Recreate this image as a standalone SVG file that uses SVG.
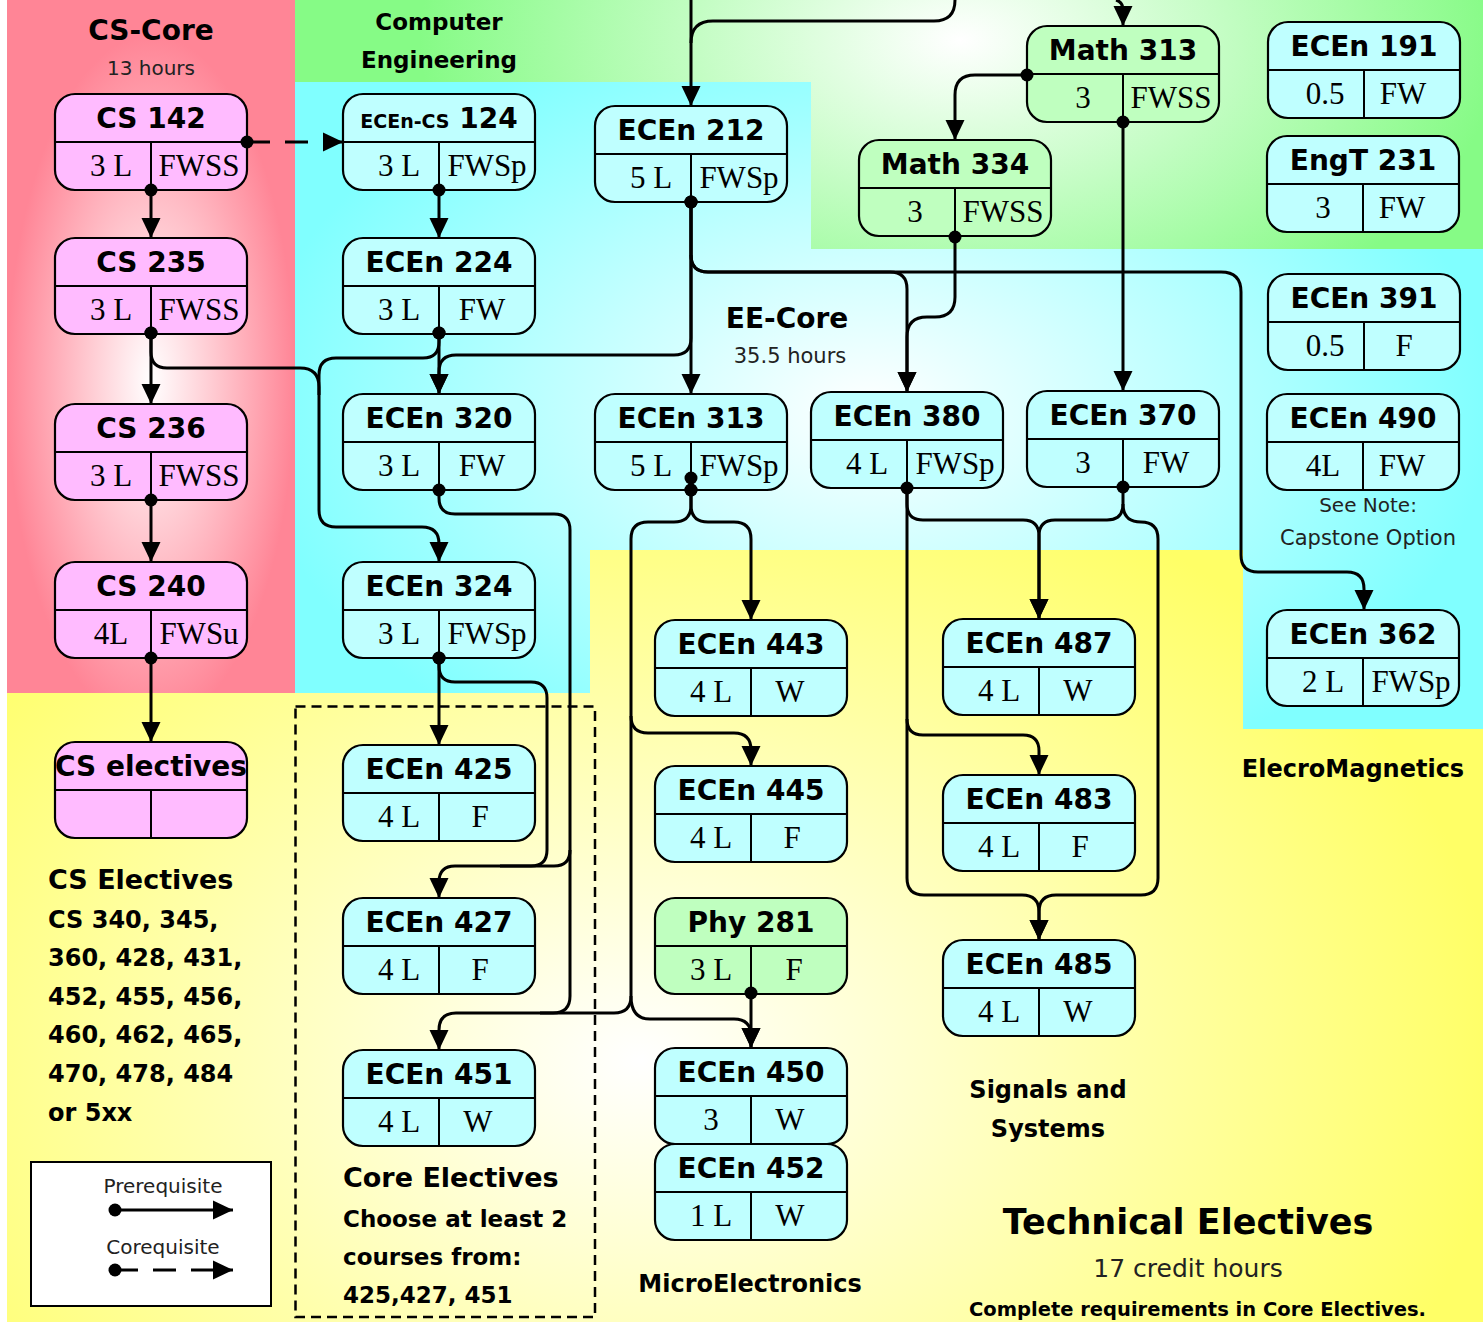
<svg xmlns="http://www.w3.org/2000/svg" width="1483" height="1322" viewBox="0 0 1483 1322">
<defs>
<radialGradient id="gPink" cx="0.5" cy="0.55" r="0.5">
<stop offset="0" stop-color="#ffffff"/><stop offset="1" stop-color="#ff8596"/>
</radialGradient>
<radialGradient id="gGreen" gradientUnits="userSpaceOnUse" cx="960" cy="40" r="540" gradientTransform="translate(960 40) scale(1 0.6) translate(-960 -40)">
<stop offset="0" stop-color="#ffffff"/><stop offset="1" stop-color="#86fb86"/>
</radialGradient>
<radialGradient id="gCyan" gradientUnits="userSpaceOnUse" cx="870" cy="410" r="620" gradientTransform="translate(870 410) scale(1 0.65) translate(-870 -410)">
<stop offset="0" stop-color="#ffffff"/><stop offset="1" stop-color="#80ffff"/>
</radialGradient>
<radialGradient id="gYellow" gradientUnits="userSpaceOnUse" cx="640" cy="1060" r="860" gradientTransform="translate(640 1060) scale(1 0.75) translate(-640 -1060)">
<stop offset="0" stop-color="#ffffff"/><stop offset="1" stop-color="#ffff66"/>
</radialGradient>
<marker id="arr" markerUnits="userSpaceOnUse" markerWidth="20" markerHeight="20" refX="20" refY="9.5" orient="auto" overflow="visible"><path d="M0,0 L20,9.5 L0,19 z" fill="#000" stroke="none"/></marker>
<marker id="dot" markerUnits="userSpaceOnUse" markerWidth="14" markerHeight="14" refX="7" refY="7" overflow="visible"><circle cx="7" cy="7" r="6.5" fill="#000" stroke="none"/></marker>
<style>
.node rect{stroke:#000;stroke-width:2.2}
.node line{stroke:#000;stroke-width:2}
.pink rect{fill:#ffbbff}
.cyan rect{fill:#bfffff}
.green rect{fill:#bfffbf}
.t{font-family:"DejaVu Sans",sans-serif;font-weight:bold;font-size:28px;text-anchor:middle;fill:#000}
.c{font-family:"Liberation Serif",serif;font-size:31px;text-anchor:middle;fill:#000}
.lab{font-family:"DejaVu Sans",sans-serif;font-weight:bold;fill:#000}
.thin{font-family:"DejaVu Sans",sans-serif;fill:#222}
.mid{text-anchor:middle}
#connectors path{fill:none;stroke:#000;stroke-width:3}
.pa{marker-start:url(#dot);marker-end:url(#arr)}
.pd{marker-start:url(#dot)}
.ar{marker-end:url(#arr)}
.dash{stroke-dasharray:23 15}
</style>
</defs>

<g id="background">
<rect x="0" y="0" width="1483" height="1322" fill="#ffffff"/>
<polygon points="7,693 590,693 590,550 1243,550 1243,729 1483,729 1483,1322 7,1322" fill="url(#gYellow)"/>
<polygon points="295,82 811,82 811,249 1483,249 1483,729 1243,729 1243,550 590,550 590,693 295,693" fill="url(#gCyan)"/>
<polygon points="295,0 1483,0 1483,249 811,249 811,82 295,82" fill="url(#gGreen)"/>
<rect x="7" y="0" width="288" height="693" fill="url(#gPink)"/>
<rect x="295.5" y="706.5" width="299.5" height="610.5" fill="none" stroke="#000" stroke-width="2.5" stroke-dasharray="10 6"/>
</g>

<g id="labels">
<text class="lab mid" x="151" y="40" font-size="28">CS-Core</text>
<text class="thin mid" x="151" y="75" font-size="20">13 hours</text>
<text class="lab mid" x="439" y="30" font-size="23">Computer</text>
<text class="lab mid" x="439" y="68" font-size="23">Engineering</text>
<text class="lab mid" x="787" y="328" font-size="28">EE-Core</text>
<text class="thin mid" x="790" y="363" font-size="21">35.5 hours</text>
<text class="thin mid" x="1368" y="512" font-size="20">See Note:</text>
<text class="thin mid" x="1368" y="545" font-size="21">Capstone Option</text>
<text class="lab mid" x="1353" y="777" font-size="24">ElecroMagnetics</text>
<text class="lab" x="48" y="889" font-size="27">CS Electives</text>
<text class="lab" x="48" y="928" font-size="24">CS 340, 345,</text>
<text class="lab" x="48" y="966" font-size="24">360, 428, 431,</text>
<text class="lab" x="48" y="1005" font-size="24">452, 455, 456,</text>
<text class="lab" x="48" y="1043" font-size="24">460, 462, 465,</text>
<text class="lab" x="48" y="1082" font-size="24">470, 478, 484</text>
<text class="lab" x="48" y="1121" font-size="24">or 5xx</text>
<text class="lab" x="343" y="1187" font-size="27">Core Electives</text>
<text class="lab" x="343" y="1227" font-size="23">Choose at least 2</text>
<text class="lab" x="343" y="1265" font-size="23">courses from:</text>
<text class="lab" x="343" y="1303" font-size="23">425,427, 451</text>
<text class="lab mid" x="750" y="1292" font-size="24">MicroElectronics</text>
<text class="lab mid" x="1048" y="1098" font-size="24">Signals and</text>
<text class="lab mid" x="1048" y="1137" font-size="24">Systems</text>
<text class="lab mid" x="1188" y="1234" font-size="35">Technical Electives</text>
<text class="thin mid" x="1188" y="1277" font-size="25">17 credit hours</text>
<text class="lab" x="969" y="1316" font-size="19.5">Complete requirements in Core Electives.</text>
</g>

<g id="legend">
<rect x="31" y="1162" width="240" height="144" fill="#ffffff" stroke="#000" stroke-width="2"/>
<text class="thin mid" x="163" y="1193" font-size="20">Prerequisite</text>
<text class="thin mid" x="163" y="1254" font-size="20">Corequisite</text>
</g>

<g id="cs142" class="node pink" transform="translate(55,94)"><rect width="192" height="96" rx="20"/><line x1="0" y1="48" x2="192" y2="48"/><line x1="96" y1="48" x2="96" y2="96"/><text class="t" x="96" y="34">CS 142</text><text class="c" x="56" y="82">3 L</text><text class="c" x="144" y="82">FWSS</text></g>
<g id="cs235" class="node pink" transform="translate(55,238)"><rect width="192" height="96" rx="20"/><line x1="0" y1="48" x2="192" y2="48"/><line x1="96" y1="48" x2="96" y2="96"/><text class="t" x="96" y="34">CS 235</text><text class="c" x="56" y="82">3 L</text><text class="c" x="144" y="82">FWSS</text></g>
<g id="cs236" class="node pink" transform="translate(55,404)"><rect width="192" height="96" rx="20"/><line x1="0" y1="48" x2="192" y2="48"/><line x1="96" y1="48" x2="96" y2="96"/><text class="t" x="96" y="34">CS 236</text><text class="c" x="56" y="82">3 L</text><text class="c" x="144" y="82">FWSS</text></g>
<g id="cs240" class="node pink" transform="translate(55,562)"><rect width="192" height="96" rx="20"/><line x1="0" y1="48" x2="192" y2="48"/><line x1="96" y1="48" x2="96" y2="96"/><text class="t" x="96" y="34">CS 240</text><text class="c" x="56" y="82">4L</text><text class="c" x="144" y="82">FWSu</text></g>
<g id="cselectives" class="node pink" transform="translate(55,742)"><rect width="192" height="96" rx="20"/><line x1="0" y1="48" x2="192" y2="48"/><line x1="96" y1="48" x2="96" y2="96"/><text class="t" x="96" y="34" font-size="27">CS electives</text></g>

<g id="ecen124" class="node cyan" transform="translate(343,94)"><rect width="192" height="96" rx="20"/><line x1="0" y1="48" x2="192" y2="48"/><line x1="96" y1="48" x2="96" y2="96"/><text class="t" x="96" y="34"><tspan font-size="19">ECEn-CS</tspan> 124</text><text class="c" x="56" y="82">3 L</text><text class="c" x="144" y="82">FWSp</text></g>
<g id="ecen224" class="node cyan" transform="translate(343,238)"><rect width="192" height="96" rx="20"/><line x1="0" y1="48" x2="192" y2="48"/><line x1="96" y1="48" x2="96" y2="96"/><text class="t" x="96" y="34">ECEn 224</text><text class="c" x="56" y="82">3 L</text><text class="c" x="139" y="82">FW</text></g>
<g id="ecen320" class="node cyan" transform="translate(343,394)"><rect width="192" height="96" rx="20"/><line x1="0" y1="48" x2="192" y2="48"/><line x1="96" y1="48" x2="96" y2="96"/><text class="t" x="96" y="34">ECEn 320</text><text class="c" x="56" y="82">3 L</text><text class="c" x="139" y="82">FW</text></g>
<g id="ecen324" class="node cyan" transform="translate(343,562)"><rect width="192" height="96" rx="20"/><line x1="0" y1="48" x2="192" y2="48"/><line x1="96" y1="48" x2="96" y2="96"/><text class="t" x="96" y="34">ECEn 324</text><text class="c" x="56" y="82">3 L</text><text class="c" x="144" y="82">FWSp</text></g>
<g id="ecen425" class="node cyan" transform="translate(343,745)"><rect width="192" height="96" rx="20"/><line x1="0" y1="48" x2="192" y2="48"/><line x1="96" y1="48" x2="96" y2="96"/><text class="t" x="96" y="34">ECEn 425</text><text class="c" x="56" y="82">4 L</text><text class="c" x="137" y="82">F</text></g>
<g id="ecen427" class="node cyan" transform="translate(343,898)"><rect width="192" height="96" rx="20"/><line x1="0" y1="48" x2="192" y2="48"/><line x1="96" y1="48" x2="96" y2="96"/><text class="t" x="96" y="34">ECEn 427</text><text class="c" x="56" y="82">4 L</text><text class="c" x="137" y="82">F</text></g>
<g id="ecen451" class="node cyan" transform="translate(343,1050)"><rect width="192" height="96" rx="20"/><line x1="0" y1="48" x2="192" y2="48"/><line x1="96" y1="48" x2="96" y2="96"/><text class="t" x="96" y="34">ECEn 451</text><text class="c" x="56" y="82">4 L</text><text class="c" x="135" y="82">W</text></g>

<g id="ecen212" class="node cyan" transform="translate(595,106)"><rect width="192" height="96" rx="20"/><line x1="0" y1="48" x2="192" y2="48"/><line x1="96" y1="48" x2="96" y2="96"/><text class="t" x="96" y="34">ECEn 212</text><text class="c" x="56" y="82">5 L</text><text class="c" x="144" y="82">FWSp</text></g>
<g id="ecen313" class="node cyan" transform="translate(595,394)"><rect width="192" height="96" rx="20"/><line x1="0" y1="48" x2="192" y2="48"/><line x1="96" y1="48" x2="96" y2="96"/><text class="t" x="96" y="34">ECEn 313</text><text class="c" x="56" y="82">5 L</text><text class="c" x="144" y="82">FWSp</text></g>
<g id="ecen443" class="node cyan" transform="translate(655,620)"><rect width="192" height="96" rx="20"/><line x1="0" y1="48" x2="192" y2="48"/><line x1="96" y1="48" x2="96" y2="96"/><text class="t" x="96" y="34">ECEn 443</text><text class="c" x="56" y="82">4 L</text><text class="c" x="135" y="82">W</text></g>
<g id="ecen445" class="node cyan" transform="translate(655,766)"><rect width="192" height="96" rx="20"/><line x1="0" y1="48" x2="192" y2="48"/><line x1="96" y1="48" x2="96" y2="96"/><text class="t" x="96" y="34">ECEn 445</text><text class="c" x="56" y="82">4 L</text><text class="c" x="137" y="82">F</text></g>
<g id="phy281" class="node green" transform="translate(655,898)"><rect width="192" height="96" rx="20"/><line x1="0" y1="48" x2="192" y2="48"/><line x1="96" y1="48" x2="96" y2="96"/><text class="t" x="96" y="34">Phy 281</text><text class="c" x="56" y="82">3 L</text><text class="c" x="139" y="82">F</text></g>
<g id="ecen450" class="node cyan" transform="translate(655,1048)"><rect width="192" height="96" rx="20"/><line x1="0" y1="48" x2="192" y2="48"/><line x1="96" y1="48" x2="96" y2="96"/><text class="t" x="96" y="34">ECEn 450</text><text class="c" x="56" y="82">3</text><text class="c" x="135" y="82">W</text></g>
<g id="ecen452" class="node cyan" transform="translate(655,1144)"><rect width="192" height="96" rx="20"/><line x1="0" y1="48" x2="192" y2="48"/><line x1="96" y1="48" x2="96" y2="96"/><text class="t" x="96" y="34">ECEn 452</text><text class="c" x="56" y="82">1 L</text><text class="c" x="135" y="82">W</text></g>

<g id="math313" class="node green" transform="translate(1027,26)"><rect width="192" height="96" rx="20"/><line x1="0" y1="48" x2="192" y2="48"/><line x1="96" y1="48" x2="96" y2="96"/><text class="t" x="96" y="34">Math 313</text><text class="c" x="56" y="82">3</text><text class="c" x="144" y="82">FWSS</text></g>
<g id="math334" class="node green" transform="translate(859,140)"><rect width="192" height="96" rx="20"/><line x1="0" y1="48" x2="192" y2="48"/><line x1="96" y1="48" x2="96" y2="96"/><text class="t" x="96" y="34">Math 334</text><text class="c" x="56" y="82">3</text><text class="c" x="144" y="82">FWSS</text></g>
<g id="ecen380" class="node cyan" transform="translate(811,392)"><rect width="192" height="96" rx="20"/><line x1="0" y1="48" x2="192" y2="48"/><line x1="96" y1="48" x2="96" y2="96"/><text class="t" x="96" y="34">ECEn 380</text><text class="c" x="56" y="82">4 L</text><text class="c" x="144" y="82">FWSp</text></g>
<g id="ecen370" class="node cyan" transform="translate(1027,391)"><rect width="192" height="96" rx="20"/><line x1="0" y1="48" x2="192" y2="48"/><line x1="96" y1="48" x2="96" y2="96"/><text class="t" x="96" y="34">ECEn 370</text><text class="c" x="56" y="82">3</text><text class="c" x="139" y="82">FW</text></g>
<g id="ecen487" class="node cyan" transform="translate(943,619)"><rect width="192" height="96" rx="20"/><line x1="0" y1="48" x2="192" y2="48"/><line x1="96" y1="48" x2="96" y2="96"/><text class="t" x="96" y="34">ECEn 487</text><text class="c" x="56" y="82">4 L</text><text class="c" x="135" y="82">W</text></g>
<g id="ecen483" class="node cyan" transform="translate(943,775)"><rect width="192" height="96" rx="20"/><line x1="0" y1="48" x2="192" y2="48"/><line x1="96" y1="48" x2="96" y2="96"/><text class="t" x="96" y="34">ECEn 483</text><text class="c" x="56" y="82">4 L</text><text class="c" x="137" y="82">F</text></g>
<g id="ecen485" class="node cyan" transform="translate(943,940)"><rect width="192" height="96" rx="20"/><line x1="0" y1="48" x2="192" y2="48"/><line x1="96" y1="48" x2="96" y2="96"/><text class="t" x="96" y="34">ECEn 485</text><text class="c" x="56" y="82">4 L</text><text class="c" x="135" y="82">W</text></g>

<g id="ecen191" class="node cyan" transform="translate(1268,22)"><rect width="192" height="96" rx="20"/><line x1="0" y1="48" x2="192" y2="48"/><line x1="96" y1="48" x2="96" y2="96"/><text class="t" x="96" y="34">ECEn 191</text><text class="c" x="57" y="82">0.5</text><text class="c" x="135" y="82">FW</text></g>
<g id="engt231" class="node cyan" transform="translate(1267,136)"><rect width="192" height="96" rx="20"/><line x1="0" y1="48" x2="192" y2="48"/><line x1="96" y1="48" x2="96" y2="96"/><text class="t" x="96" y="34">EngT 231</text><text class="c" x="56" y="82">3</text><text class="c" x="135" y="82">FW</text></g>
<g id="ecen391" class="node cyan" transform="translate(1268,274)"><rect width="192" height="96" rx="20"/><line x1="0" y1="48" x2="192" y2="48"/><line x1="96" y1="48" x2="96" y2="96"/><text class="t" x="96" y="34">ECEn 391</text><text class="c" x="57" y="82">0.5</text><text class="c" x="136" y="82">F</text></g>
<g id="ecen490" class="node cyan" transform="translate(1267,394)"><rect width="192" height="96" rx="20"/><line x1="0" y1="48" x2="192" y2="48"/><line x1="96" y1="48" x2="96" y2="96"/><text class="t" x="96" y="34">ECEn 490</text><text class="c" x="56" y="82">4L</text><text class="c" x="135" y="82">FW</text></g>
<g id="ecen362" class="node cyan" transform="translate(1267,610)"><rect width="192" height="96" rx="20"/><line x1="0" y1="48" x2="192" y2="48"/><line x1="96" y1="48" x2="96" y2="96"/><text class="t" x="96" y="34">ECEn 362</text><text class="c" x="56" y="82">2 L</text><text class="c" x="144" y="82">FWSp</text></g>

<g id="connectors">
<path class="pa" d="M151,190 V238"/>
<path class="pa dash" d="M247,142 H343"/>
<path class="pa" d="M439,190 V238"/>
<path class="pa" d="M151,333 V404"/>
<path class="pa" d="M151,333 V352 Q151,368 167,368 H300 Q319,368 319,387 V510 Q319,527 336,527 H422 Q439,527 439,544 V562"/>
<path class="pa" d="M439,333 V394"/>
<path class="pd" d="M439,333 V342 Q439,358 423,358 H336 Q319,358 319,375 V395"/>
<path class="pa" d="M151,500 V562"/>
<path class="pa" d="M151,658 V742"/>
<path class="pa" d="M691,202 V394"/>
<path class="pa" d="M691,202 V338 Q691,355 674,355 H456 Q439,355 439,372 V394"/>
<path class="pa" d="M691,202 V255 Q691,272 708,272 H890 Q907,272 907,289 V392"/>
<path class="ar" d="M691,255 Q691,272 708,272 H1221 Q1241,272 1241,292 V555 Q1241,572 1258,572 H1347 Q1364,572 1364,589 V610"/>
<path class="pa" d="M955,237 V297 Q955,317 935,317 H927 Q907,317 907,337 V392"/>
<path class="pa" d="M1027,75 H975 Q955,75 955,95 V140"/>
<path class="pa" d="M1123,122 V391"/>
<path class="ar" d="M1116,0 Q1123,2 1123,10 V26"/>
<path class="ar" d="M691,0 V106"/>
<path d="M955,0 Q955,21 934,21 H713 Q691,21 691,43"/>
<path class="pd" d="M691,478 V490"/>
<path class="pa" d="M691,490 V505 Q691,522 708,522 H734 Q751,522 751,539 V620"/>
<path class="pa" d="M691,490 V505 Q691,522 674,522 H648 Q631,522 631,539 V716 Q631,733 648,733 H734 Q751,733 751,750 V766"/>
<path class="ar" d="M631,716 V996 Q631,1013 614,1013 H456 Q439,1013 439,1030 V1050"/>
<path class="ar" d="M631,996 Q631,1019 650,1019 H734 Q751,1019 751,1036 V1048"/>
<path class="pa" d="M439,490 V498 Q439,514 455,514 H554 Q570,514 570,530 V850 Q570,866 554,866 H455 Q439,866 439,882 V898"/>
<path d="M570,850 V996 Q570,1013 553,1013 H540"/>
<path class="pa" d="M439,658 V745"/>
<path class="pd" d="M439,658 V666 Q439,682 455,682 H531 Q547,682 547,698 V850 Q547,866 531,866 H500"/>
<path class="pa" d="M751,993 V1048"/>
<path class="pa" d="M907,488 V504 Q907,520 923,520 H1023 Q1039,520 1039,536 V619"/>
<path class="pa" d="M1123,487 V504 Q1123,520 1107,520 H1055 Q1039,520 1039,536 V619"/>
<path class="ar" d="M907,488 V719 Q907,735 923,735 H1023 Q1039,735 1039,751 V775"/>
<path class="ar" d="M907,719 V878 Q907,895 924,895 H1022 Q1039,895 1039,912 V940"/>
<path class="ar" d="M1123,504 Q1123,522 1141,522 Q1158,522 1158,539 V878 Q1158,895 1141,895 H1056 Q1039,895 1039,912 V940"/>
<path class="pa" d="M115,1210 H233"/>
<path class="pa dash" d="M115,1270 H233"/>
</g>
</svg>
